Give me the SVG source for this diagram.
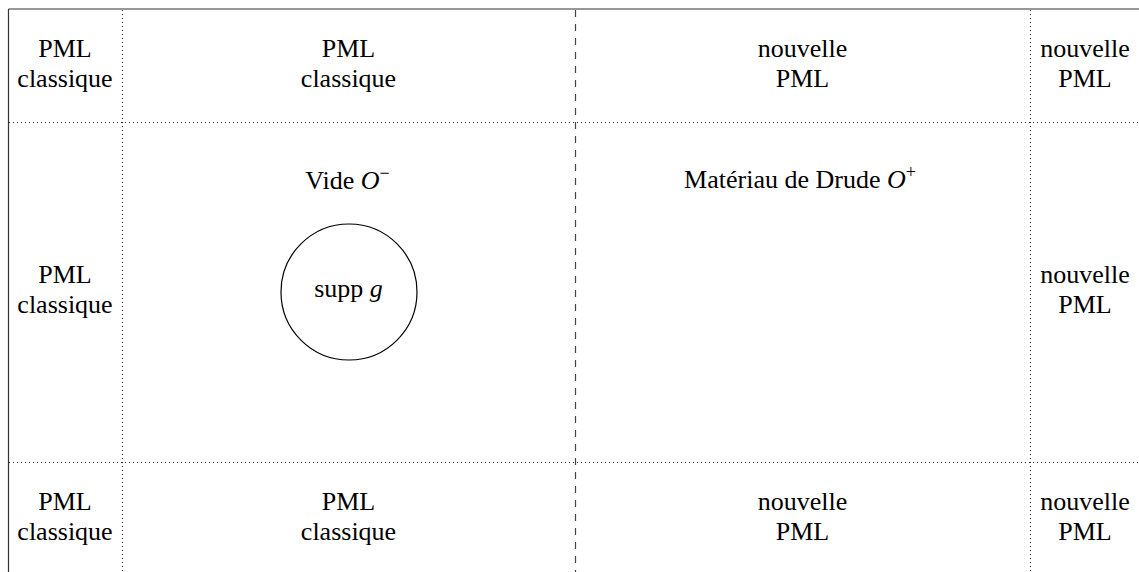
<svg xmlns="http://www.w3.org/2000/svg" width="1139" height="572" viewBox="0 0 1139 572">
<style>
text{font-family:'Liberation Serif','DejaVu Serif','Noto Serif',serif;font-size:26px;fill:#000;text-anchor:middle}
.m{font-style:italic}
.solid{stroke:#333;stroke-width:1.2;fill:none}
.dot{stroke:#222;stroke-width:1;stroke-dasharray:1 3;fill:none}
.dash{stroke:#444;stroke-width:1.2;stroke-dasharray:7 7;fill:none}
</style>
<rect width="1139" height="572" fill="#fff"/>
<g id="connectors">
<line class="solid" x1="8.5" y1="9" x2="1139" y2="9"/>
<line class="solid" x1="8.5" y1="9" x2="8.5" y2="572"/>
<line class="dot" x1="122.5" y1="10" x2="122.5" y2="572"/>
<line class="dot" x1="1030.5" y1="10" x2="1030.5" y2="572"/>
<line class="dot" x1="9" y1="122.5" x2="1139" y2="122.5"/>
<line class="dot" x1="9" y1="462.5" x2="1139" y2="462.5"/>
<line class="dash" x1="575.5" y1="10" x2="575.5" y2="572"/>
</g>
<g id="tl" font-family="Liberation Serif, serif"><text x="65" y="57">PML</text><text x="65" y="87">classique</text></g>
<g id="tc1"><text x="348.5" y="57">PML</text><text x="348.5" y="87">classique</text></g>
<g id="tc2"><text x="802.5" y="57">nouvelle</text><text x="802.5" y="87">PML</text></g>
<g id="tr"><text x="1085" y="57">nouvelle</text><text x="1085" y="87">PML</text></g>
<g id="ml"><text x="65" y="283">PML</text><text x="65" y="313">classique</text></g>
<g id="mr"><text x="1085" y="283">nouvelle</text><text x="1085" y="313">PML</text></g>
<g id="bl"><text x="65" y="510">PML</text><text x="65" y="540">classique</text></g>
<g id="bc1"><text x="348.5" y="510">PML</text><text x="348.5" y="540">classique</text></g>
<g id="bc2"><text x="802.5" y="510">nouvelle</text><text x="802.5" y="540">PML</text></g>
<g id="br"><text x="1085" y="510">nouvelle</text><text x="1085" y="540">PML</text></g>
<g id="vide"><text x="347.5" y="189">Vide <tspan class="m">O</tspan><tspan font-size="18" dy="-10">−</tspan></text></g>
<g id="drude"><text x="800" y="188">Matériau de Drude <tspan class="m">O</tspan><tspan font-size="18" dy="-10">+</tspan></text></g>
<g id="supp"><circle cx="349" cy="292" r="68" fill="none" stroke="#000" stroke-width="1.2"/><text x="348.5" y="297">supp <tspan class="m">g</tspan></text></g>
</svg>
